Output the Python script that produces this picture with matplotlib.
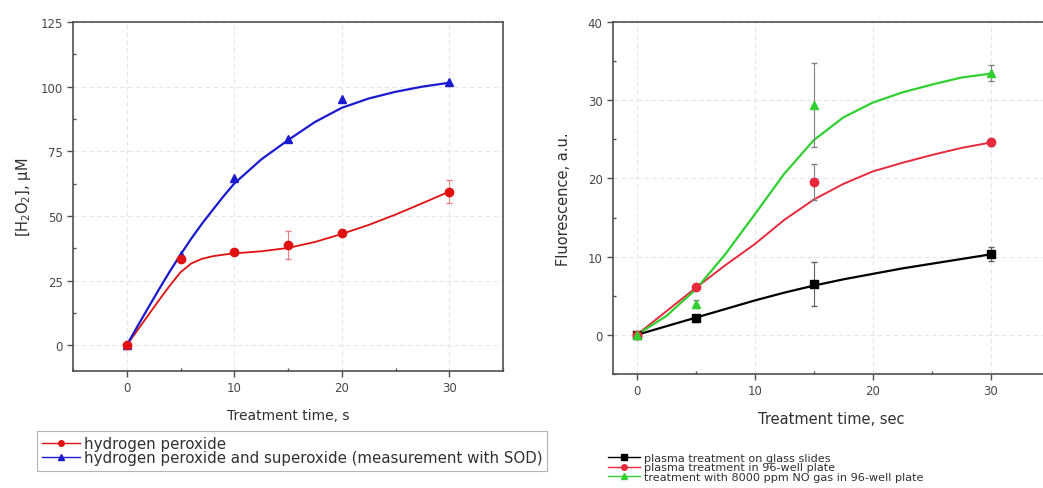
import numpy as np
import matplotlib
matplotlib.use('Agg')
import matplotlib.pyplot as plt
from matplotlib.ticker import MultipleLocator

plt.rcParams['font.family'] = ['DejaVu Sans']
plt.rcParams['mathtext.default'] = 'regular'

# left panel: H2O2 measurements
t_left = [0, 5, 10, 15, 20, 30]
h2o2 = [0, 33.5, 36.2, 38.7, 43.4, 59.4]
h2o2_err = [0.5, 1.0, 1.0, 5.5, 1.0, 4.5]
h2o2_sod = [0, 35.0, 64.8, 79.6, 95.2, 101.8]

# fitted curves
fit_t_left = [0, 1, 2, 3, 4, 5, 6, 7, 8, 9, 10, 12.5, 15, 17.5, 20, 22.5, 25, 27.5, 30]
fit_h2o2 = [0, 5.8, 11.6, 17.4, 23.0, 28.2, 31.6, 33.4, 34.4, 35.0, 35.5, 36.3, 37.6, 39.9, 43.0, 46.5, 50.5, 54.9, 59.4]
fit_sod = [0, 7.3, 14.5, 21.6, 28.5, 35.0, 41.2, 47.0, 52.3, 57.6, 62.5, 71.8, 79.3, 86.3, 91.8, 95.4, 98.0, 100.0, 101.5]

# right panel: fluorescence
t_right = [0, 5, 15, 30]
glass = [0, 2.1, 6.5, 10.3]
glass_err = [0.3, 0.4, 2.8, 0.9]
plate = [0, 6.1, 19.6, 24.6]
plate_err = [0.3, 0.4, 2.3, 0.5]
no_gas = [0, 4.0, 29.4, 33.5]
no_gas_err = [0.3, 0.5, 5.4, 1.0]

fit_t_right = [0, 2.5, 5, 7.5, 10, 12.5, 15, 17.5, 20, 22.5, 25, 27.5, 30]
fit_glass = [0, 1.1, 2.2, 3.3, 4.4, 5.4, 6.3, 7.1, 7.8, 8.5, 9.1, 9.7, 10.3]
fit_plate = [0, 3.0, 6.0, 8.9, 11.6, 14.7, 17.3, 19.3, 20.9, 22.0, 23.0, 23.9, 24.6]
fit_no_gas = [0, 2.4, 5.8, 10.3, 15.4, 20.6, 24.9, 27.8, 29.7, 31.0, 32.0, 32.9, 33.4]

fig = plt.figure(figsize=(10.43, 4.89), dpi=100)
W, H = 1043, 489

def style(ax, xmaj, ymaj, ymin):
    for s in ax.spines.values():
        s.set_color('#505050')
        s.set_linewidth(1.2)
    ax.xaxis.set_major_locator(MultipleLocator(xmaj))
    ax.xaxis.set_minor_locator(MultipleLocator(xmaj / 2))
    ax.yaxis.set_major_locator(MultipleLocator(ymaj))
    ax.yaxis.set_minor_locator(MultipleLocator(ymin))
    ax.tick_params(which='major', direction='out', length=4, width=1,
                   labelsize=8.5, colors='#505050', labelcolor='#484848')
    ax.tick_params(which='minor', direction='in', length=2.5, width=1, colors='#505050')
    ax.tick_params(top=False, right=False)
    ax.grid(True, which='major', color='#e4e4ec', linestyle=(0, (4, 3)), linewidth=0.8)
    ax.set_axisbelow(True)

# ---- left panel
ax1 = fig.add_axes([73 / W, 1 - 372 / H, (503 - 73) / W, (372 - 23) / H])
ax1.plot(fit_t_left, fit_h2o2, color='#e01010', lw=1.3)
ax1.plot(fit_t_left, fit_sod, color='#1a1ad0', lw=1.6)
ax1.errorbar(t_left, h2o2, yerr=h2o2_err, fmt='o', color='#e01010', ms=6,
             ecolor='#f08080', elinewidth=0.8, capsize=2)
ax1.plot(t_left, h2o2_sod, '^', color='#1a1ad0', ms=6)
ax1.set_xlim(-5, 35)
ax1.set_ylim(-10, 125)
style(ax1, 10, 25, 12.5)
ax1.set_xlabel('Treatment time, s', fontsize=10, color='#303030', labelpad=10)
ax1.set_ylabel('[H$_2$O$_2$], µM', fontsize=10.5, color='#303030', labelpad=5)

h1, = ax1.plot([], [], '-o', color='#e01010', ms=4, lw=1)
h2, = ax1.plot([], [], '-^', color='#1a1ad0', ms=4, lw=1)
leg1 = fig.legend([h1, h2], ['hydrogen peroxide',
                             'hydrogen peroxide and superoxide (measurement with SOD)'],
                  loc='upper left', bbox_to_anchor=(37 / W, 1 - 432 / H),
                  fontsize=10.8, frameon=True, fancybox=False, handlelength=2.5,
                  handletextpad=0.25, borderpad=0.35, labelspacing=-0.05,
                  borderaxespad=0)
leg1.get_frame().set_edgecolor('#a0a0a0')
leg1.get_frame().set_linewidth(0.8)
for t in leg1.get_texts():
    t.set_color('#303030')

# ---- right panel
ax2 = fig.add_axes([613 / W, 1 - 375 / H, (1050 - 613) / W, (375 - 23) / H])
ax2.plot(fit_t_right, fit_glass, color='black', lw=1.6)
ax2.plot(fit_t_right, fit_plate, color='#e8283c', lw=1.4)
ax2.plot(fit_t_right, fit_no_gas, color='#30d030', lw=1.6)
ax2.errorbar(t_right, glass, yerr=glass_err, fmt='s', color='black', ms=5.5,
             ecolor='#606060', elinewidth=0.8, capsize=2)
ax2.errorbar(t_right, plate, yerr=plate_err, fmt='o', color='#e8283c', ms=6,
             ecolor='#808080', elinewidth=0.8, capsize=2)
ax2.errorbar(t_right, no_gas, yerr=no_gas_err, fmt='^', color='#30d030', ms=6,
             ecolor='#808080', elinewidth=0.8, capsize=2)
ax2.set_xlim(-2, 35)
ax2.set_ylim(-5, 40)
style(ax2, 10, 10, 5)
ax2.spines['right'].set_visible(False)
ax2.set_xlabel('Treatment time, sec', fontsize=10.5, color='#303030', labelpad=10)
ax2.set_ylabel('Fluorescence, a.u.', fontsize=10.5, color='#303030', labelpad=12)

g1, = ax2.plot([], [], '-s', color='black', ms=4, lw=1)
g2, = ax2.plot([], [], '-o', color='#e8283c', ms=4, lw=1)
g3, = ax2.plot([], [], '-^', color='#30d030', ms=4, lw=1)
leg2 = fig.legend([g1, g2, g3], ['plasma treatment on glass slides',
                                 'plasma treatment in 96-well plate',
                                 'treatment with 8000 ppm NO gas in 96-well plate'],
                  loc='upper left', bbox_to_anchor=(608 / W, 1 - 454 / H),
                  fontsize=8.1, frameon=False, handlelength=2.8,
                  handletextpad=0.4, borderpad=0, labelspacing=-0.05,
                  borderaxespad=0)
for t in leg2.get_texts():
    t.set_color('#303030')

fig.savefig('out.png', dpi=100)
